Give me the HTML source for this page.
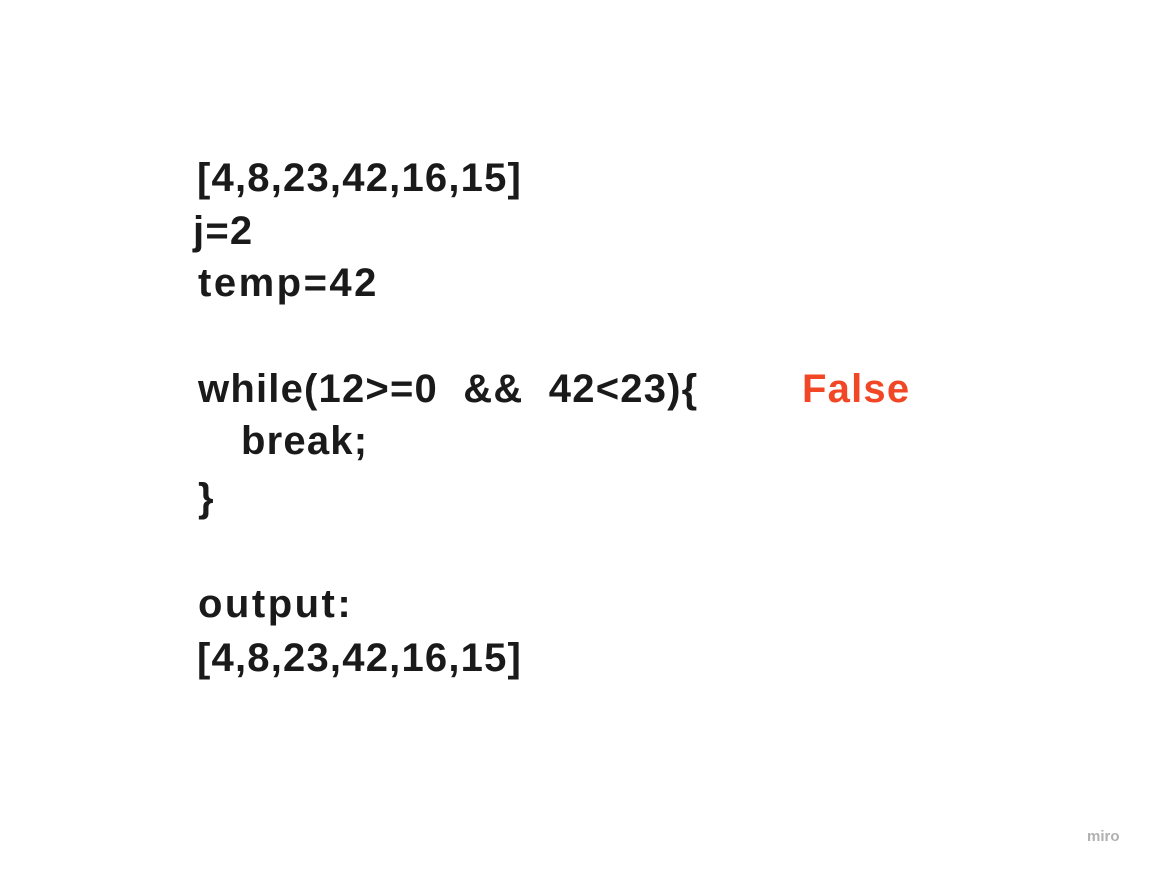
<!DOCTYPE html>
<html><head><meta charset="utf-8"><style>
html,body{margin:0;padding:0;background:#fff;width:1150px;height:869px;overflow:hidden;position:relative}
.t{position:absolute;font-family:"Liberation Sans",sans-serif;font-weight:bold;font-size:40px;line-height:40px;color:#1a1a1a;white-space:pre;letter-spacing:1.2px;word-spacing:13px}
.r{color:#f24726}
.m{position:absolute;left:1087px;top:828px;font-family:"Liberation Sans",sans-serif;font-size:15px;color:#b0b0b0;font-weight:bold}
</style></head><body>
<div class="t" style="left:197px;top:158px">[4,8,23,42,16,15]</div>
<div class="t" style="left:193px;top:211px">j=2</div>
<div class="t" style="left:198px;top:263px;letter-spacing:2.5px">temp=42</div>
<div class="t" style="left:198px;top:369px">while(12&gt;=0 &amp;&amp; 42&lt;23){</div>
<div class="t r" style="left:802px;top:369px">False</div>
<div class="t" style="left:241px;top:421px">break;</div>
<div class="t" style="left:198px;top:478px">}</div>
<div class="t" style="left:198px;top:584px;letter-spacing:2.5px">output:</div>
<div class="t" style="left:197px;top:638px">[4,8,23,42,16,15]</div>
<div class="m">miro</div>
</body></html>
